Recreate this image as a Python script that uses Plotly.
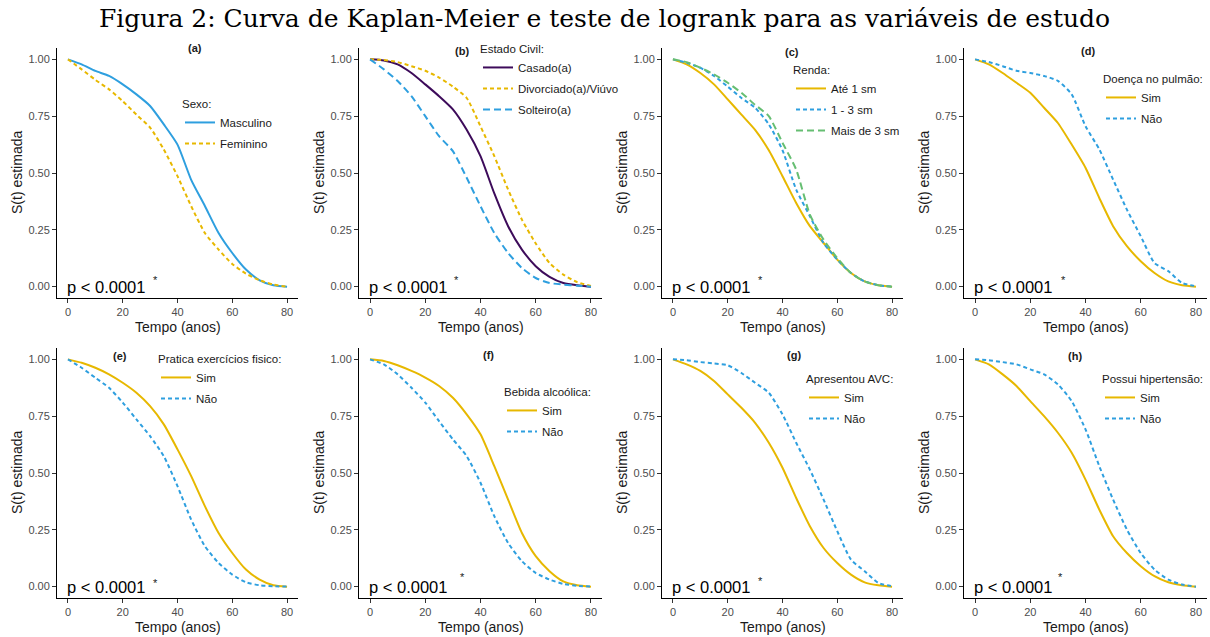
import plotly.graph_objects as go

W, H = 1210, 637

# ---------------- data ----------------
tempo = [0, 5, 10, 15, 20, 25, 30, 35, 40, 45, 50, 55, 60, 65, 70, 75, 80]

a_masculino = [1.0, 0.978, 0.949, 0.927, 0.89, 0.846, 0.795, 0.714, 0.625, 0.47, 0.355, 0.236, 0.148, 0.075, 0.028, 0.006, 0.0]
a_feminino = [1.0, 0.956, 0.91, 0.868, 0.816, 0.757, 0.70, 0.603, 0.486, 0.354, 0.236, 0.163, 0.10, 0.057, 0.028, 0.009, 0.0]

b_casado = [1.0, 0.995, 0.978, 0.94, 0.89, 0.838, 0.78, 0.69, 0.574, 0.41, 0.266, 0.163, 0.09, 0.043, 0.016, 0.006, 0.0]
b_divorciado = [1.0, 0.997, 0.988, 0.97, 0.95, 0.92, 0.88, 0.83, 0.705, 0.574, 0.427, 0.295, 0.19, 0.104, 0.053, 0.02, 0.003]
b_solteiro = [1.0, 0.956, 0.905, 0.838, 0.75, 0.662, 0.596, 0.479, 0.354, 0.236, 0.148, 0.082, 0.038, 0.016, 0.009, 0.004, 0.0]

c_ate1 = [1.0, 0.978, 0.94, 0.89, 0.824, 0.757, 0.69, 0.60, 0.486, 0.368, 0.266, 0.192, 0.119, 0.06, 0.023, 0.006, 0.0]
c_1a3 = [1.0, 0.985, 0.963, 0.927, 0.88, 0.83, 0.787, 0.714, 0.60, 0.427, 0.31, 0.192, 0.119, 0.06, 0.023, 0.006, 0.0]
c_mais3 = [1.0, 0.988, 0.963, 0.934, 0.897, 0.853, 0.80, 0.75, 0.633, 0.515, 0.317, 0.207, 0.126, 0.06, 0.023, 0.006, 0.0]

d_sim = [1.0, 0.978, 0.94, 0.897, 0.853, 0.787, 0.72, 0.625, 0.523, 0.39, 0.266, 0.178, 0.112, 0.06, 0.023, 0.006, 0.0]
d_nao = [1.0, 0.988, 0.97, 0.95, 0.94, 0.927, 0.905, 0.846, 0.706, 0.604, 0.471, 0.339, 0.222, 0.104, 0.068, 0.016, 0.002]

e_sim = [1.0, 0.985, 0.963, 0.934, 0.897, 0.853, 0.794, 0.714, 0.604, 0.486, 0.354, 0.236, 0.148, 0.075, 0.031, 0.006, 0.0]
e_nao = [1.0, 0.963, 0.919, 0.875, 0.81, 0.736, 0.662, 0.574, 0.442, 0.295, 0.178, 0.104, 0.053, 0.019, 0.006, 0.002, 0.0]

f_sim = [1.0, 0.993, 0.974, 0.949, 0.92, 0.883, 0.831, 0.758, 0.67, 0.53, 0.383, 0.236, 0.134, 0.068, 0.023, 0.006, 0.0]
f_nao = [1.0, 0.978, 0.934, 0.875, 0.81, 0.728, 0.648, 0.574, 0.457, 0.31, 0.192, 0.112, 0.06, 0.031, 0.012, 0.004, 0.0]

g_sim = [1.0, 0.978, 0.949, 0.905, 0.846, 0.787, 0.721, 0.633, 0.523, 0.39, 0.266, 0.17, 0.104, 0.053, 0.019, 0.006, 0.0]
g_nao = [1.0, 0.996, 0.988, 0.982, 0.974, 0.94, 0.897, 0.853, 0.758, 0.633, 0.515, 0.383, 0.244, 0.119, 0.068, 0.016, 0.002]

h_sim = [1.0, 0.978, 0.934, 0.883, 0.816, 0.75, 0.677, 0.589, 0.471, 0.339, 0.222, 0.148, 0.09, 0.046, 0.019, 0.006, 0.0]
h_nao = [1.0, 0.996, 0.988, 0.978, 0.956, 0.934, 0.89, 0.816, 0.692, 0.53, 0.383, 0.251, 0.148, 0.075, 0.031, 0.009, 0.0]

panel_labels = ["(a)", "(b)", "(c)", "(d)", "(e)", "(f)", "(g)", "(h)"]
legend_titles = ["Sexo:", "Estado Civil:", "Renda:", "Doença no pulmão:",
                 "Pratica exercícios fisico:", "Bebida alcoólica:", "Apresentou AVC:", "Possui hipertensão:"]
x_ticks = [0, 20, 40, 60, 80]
y_ticks = [0.0, 0.25, 0.50, 0.75, 1.00]
p_text = "p < 0.0001"

# ---------------- styles ----------------
YEL, BLU, PUR, GRN = "#E7B800", "#2E9FDF", "#3D0B5A", "#66BE72"
SOLID, DOT, DASH = "solid", "4px,3px", "7px,4px"
FONT = "Liberation Sans, Arial, sans-serif"

panels = [
    [("Masculino", a_masculino, BLU, SOLID), ("Feminino", a_feminino, YEL, DOT)],
    [("Casado(a)", b_casado, PUR, SOLID), ("Divorciado(a)/Viúvo", b_divorciado, YEL, DOT),
     ("Solteiro(a)", b_solteiro, BLU, DASH)],
    [("Até 1 sm", c_ate1, YEL, SOLID), ("1 - 3 sm", c_1a3, BLU, DOT), ("Mais de 3 sm", c_mais3, GRN, DASH)],
    [("Sim", d_sim, YEL, SOLID), ("Não", d_nao, BLU, DOT)],
    [("Sim", e_sim, YEL, SOLID), ("Não", e_nao, BLU, DOT)],
    [("Sim", f_sim, YEL, SOLID), ("Não", f_nao, BLU, DOT)],
    [("Sim", g_sim, YEL, SOLID), ("Não", g_nao, BLU, DOT)],
    [("Sim", h_sim, YEL, SOLID), ("Não", h_nao, BLU, DOT)],
]

# layout geometry (pixels)
col_x = [(57, 298), (359, 602), (662, 903), (964, 1207)]
row_y = [(48, 298), (348, 598)]
title_pos = [(195, 48), (462, 51), (792, 52), (1088, 51), (120, 356), (488, 355), (794, 355), (1075, 356)]
legend_pos = [(180, 93), (478, 38), (791, 59), (1101, 68), (156, 348), (502, 381), (804, 368), (1100, 368)]
star_pos = [(155, 280), (456, 280), (760, 280), (1063, 280), (155, 583), (462, 577), (760, 581), (1060, 577)]


def px(x):
    return x / W


def py(y):
    return 1 - y / H


fig = go.Figure()
annotations = []
layout_axes = {}

for i, series in enumerate(panels):
    r, c = divmod(i, 4)
    k = i + 1
    xa = "x" if k == 1 else f"x{k}"
    ya = "y" if k == 1 else f"y{k}"
    lg = "legend" if k == 1 else f"legend{k}"
    for j, (name, vals, color, dash) in enumerate(series):
        fig.add_trace(go.Scatter(
            x=tempo, y=vals, mode="lines", name=name,
            line=dict(color=color, width=2, dash=dash, shape="spline", smoothing=0.6),
            xaxis=xa, yaxis=ya, legend=lg, legendgroup=f"g{k}_{j}",
            showlegend=True, hoverinfo="skip"))
    x0, x1 = col_x[c]
    y0, y1 = row_y[r]
    common = dict(showline=True, linecolor="black", linewidth=1, ticks="outside",
                  ticklen=4, tickcolor="#333333", tickwidth=1, showgrid=False, zeroline=False,
                  tickfont=dict(family=FONT, size=11, color="#4D4D4D"), fixedrange=True)
    layout_axes["xaxis" if k == 1 else f"xaxis{k}"] = dict(
        domain=[px(x0), px(x1)], range=[-4, 84], tickvals=x_ticks, anchor=ya, **common)
    layout_axes["yaxis" if k == 1 else f"yaxis{k}"] = dict(
        domain=[py(y1), py(y0)], range=[-0.05, 1.05], tickvals=y_ticks, tickformat=".2f",
        anchor=xa, **common)
    lx, ly = legend_pos[i]
    layout_axes[lg] = dict(
        x=px(lx), y=py(ly), xanchor="left", yanchor="top", xref="paper", yref="paper",
        bgcolor="rgba(0,0,0,0)", borderwidth=0, itemwidth=30, tracegroupgap=2,
        title=dict(text=legend_titles[i], font=dict(family=FONT, size=11.5, color="#1a1a1a")),
        font=dict(family=FONT, size=11.5, color="#1a1a1a"), itemclick=False, itemdoubleclick=False)
    # panel title
    tx, ty = title_pos[i]
    annotations.append(dict(text=f"<b>{panel_labels[i]}</b>", x=px(tx), y=py(ty), xref="paper", yref="paper",
                            showarrow=False, font=dict(family=FONT, size=11, color="#1a1a1a"),
                            xanchor="center", yanchor="middle"))
    # axis titles
    annotations.append(dict(text="S(t) estimada", x=px(x0 - 40), y=py((y0 + y1) / 2), xref="paper", yref="paper",
                            showarrow=False, textangle=-90, font=dict(family=FONT, size=14, color="#1a1a1a"),
                            xanchor="center", yanchor="middle"))
    annotations.append(dict(text="Tempo (anos)", x=px((x0 + x1) / 2), y=py(y1 + 29), xref="paper", yref="paper",
                            showarrow=False, font=dict(family=FONT, size=14, color="#1a1a1a"),
                            xanchor="center", yanchor="middle"))
    # p-value
    annotations.append(dict(text=p_text, x=0, y=0, xref=xa, yref=ya, showarrow=False,
                            xanchor="left", yanchor="middle", xshift=-3, yshift=0,
                            font=dict(family=FONT, size=16.5, color="black")))
    sx, sy = star_pos[i]
    annotations.append(dict(text="*", x=px(sx), y=py(sy), xref="paper", yref="paper", showarrow=False,
                            xanchor="center", yanchor="middle", font=dict(family=FONT, size=11, color="#1a1a1a")))

annotations.append(dict(text="Figura 2: Curva de Kaplan-Meier e teste de logrank para as variáveis de estudo",
                        x=px(604), y=py(19), xref="paper", yref="paper", showarrow=False,
                        xanchor="center", yanchor="middle",
                        font=dict(family="DejaVu Serif, serif", size=25, color="black")))

fig.update_layout(
    width=W, height=H, margin=dict(l=0, r=0, t=0, b=0),
    paper_bgcolor="white", plot_bgcolor="white",
    annotations=annotations, **layout_axes)

fig.write_html("out.html", config={"displayModeBar": False})
